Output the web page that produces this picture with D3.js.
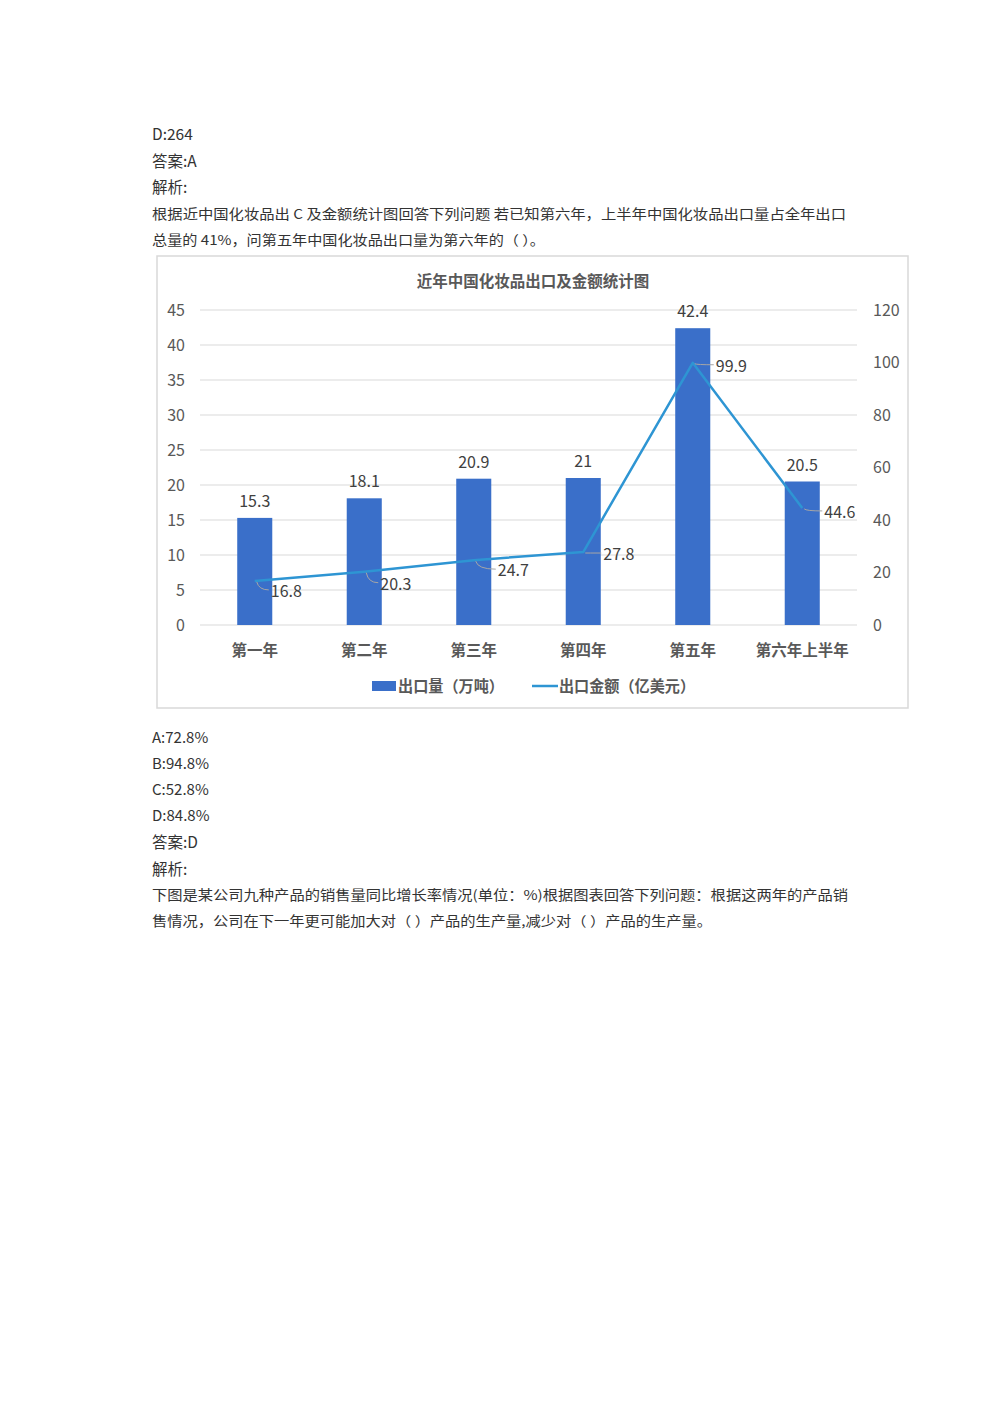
<!DOCTYPE html>
<html>
<head>
<meta charset="utf-8">
<script src="https://cdn.jsdelivr.net/npm/d3@7/dist/d3.min.js"></script>
<style>
  html, body { margin: 0; padding: 0; background: #fff; }
  svg { display: block; }
  text { font-family: "Noto Sans CJK SC", "Noto Sans", sans-serif; }
</style>
</head>
<body>
<svg id="page" width="1000" height="1414"></svg>
<script>
// ---------- data ----------
const categories = ["第一年", "第二年", "第三年", "第四年", "第五年", "第六年上半年"];
const exportVolume = [15.3, 18.1, 20.9, 21, 42.4, 20.5];      // 出口量（万吨）
const exportValue = [16.8, 20.3, 24.7, 27.8, 99.9, 44.6];      // 出口金额（亿美元）
const leftTicks = [0, 5, 10, 15, 20, 25, 30, 35, 40, 45];
const rightTicks = [0, 20, 40, 60, 80, 100, 120];
const chartTitle = "近年中国化妆品出口及金额统计图";
const legendLabels = ["出口量（万吨）", "出口金额（亿美元）"];

const textAbove = [
  { t: "D:264", size: 15.5 },
  { t: "答案:A", size: 15.5 },
  { t: "解析:", size: 15.5 },
  { t: "根据近中国化妆品出 C 及金额统计图回答下列问题  若已知第六年，上半年中国化妆品出口量占全年出口", size: 13.5, len: 694 },
  { t: "总量的 41%，问第五年中国化妆品出口量为第六年的（ ）。", size: 13.5, len: 393 }
];
const textBelow = [
  { t: "A:72.8%", size: 15 },
  { t: "B:94.8%", size: 15 },
  { t: "C:52.8%", size: 15 },
  { t: "D:84.8%", size: 15 },
  { t: "答案:D", size: 15.5 },
  { t: "解析:", size: 15.5 },
  { t: "下图是某公司九种产品的销售量同比增长率情况(单位：%)根据图表回答下列问题：根据这两年的产品销", size: 13.5, len: 696 },
  { t: "售情况，公司在下一年更可能加大对（ ）产品的生产量,减少对（ ）产品的生产量。", size: 13.5, len: 560 }
];
// label nudges for line value labels (style)
const lineLabelNudge = [[16, 9], [16, 11], [24, 9], [20, 1], [23, 2], [22, 3]];

// ---------- page text ----------
const svg = d3.select("#page");

function textBlock(lines, y0, step) {
  lines.forEach((d, i) => {
    const t = svg.append("text")
      .attr("x", 152)
      .attr("y", y0 + i * step)
      .attr("dominant-baseline", "central")
      .attr("font-size", d.size)
      .attr("fill", "#333")
      .text(d.t);
    if (d.len) t.attr("textLength", d.len).attr("lengthAdjust", "spacingAndGlyphs");
  });
}
textBlock(textAbove, 133, 26.5);
textBlock(textBelow, 736, 26.3);

// ---------- chart ----------
const box = { x: 157, y: 256, w: 751, h: 452 };
svg.append("rect")
  .attr("x", box.x).attr("y", box.y).attr("width", box.w).attr("height", box.h)
  .attr("fill", "#fff").attr("stroke", "#d9d9d9").attr("stroke-width", 1.5);

const plot = { left: 200, right: 857, top: 310, bottom: 625 };

const x = d3.scaleBand().domain(categories).range([plot.left, plot.right]).paddingInner(0.68).paddingOuter(0.34);
const yL = d3.scaleLinear().domain([0, 45]).range([plot.bottom, plot.top]);
const yR = d3.scaleLinear().domain([0, 120]).range([plot.bottom, plot.top]);

// title
svg.append("text")
  .attr("x", 533).attr("y", 280)
  .attr("text-anchor", "middle").attr("dominant-baseline", "central")
  .attr("font-size", 15.5).attr("font-weight", "bold").attr("fill", "#595959")
  .text(chartTitle);

// gridlines
svg.append("g").selectAll("line").data(leftTicks).join("line")
  .attr("x1", plot.left).attr("x2", plot.right)
  .attr("y1", d => yL(d)).attr("y2", d => yL(d))
  .attr("stroke", "#d9d9d9").attr("stroke-width", 1);

// left axis
const axL = svg.append("g").attr("transform", `translate(${plot.left},0)`)
  .call(d3.axisLeft(yL).tickValues(leftTicks).tickSize(0).tickPadding(15));
axL.select(".domain").remove();
axL.selectAll("text").attr("font-size", 16).attr("fill", "#595959")
  .attr("font-family", "'Noto Sans CJK SC', sans-serif");

// right axis
const axR = svg.append("g").attr("transform", `translate(${plot.right},0)`)
  .call(d3.axisRight(yR).tickValues(rightTicks).tickSize(0).tickPadding(16));
axR.select(".domain").remove();
axR.selectAll("text").attr("font-size", 16).attr("fill", "#595959")
  .attr("font-family", "'Noto Sans CJK SC', sans-serif");

// x axis labels
const axX = svg.append("g").attr("transform", `translate(0,${plot.bottom})`)
  .call(d3.axisBottom(x).tickSize(0).tickPadding(20));
axX.select(".domain").remove();
axX.selectAll("text").attr("font-size", 15.5).attr("font-weight", "bold").attr("fill", "#595959")
  .attr("font-family", "'Noto Sans CJK SC', sans-serif");

// bars
const barColor = "#3a6fc9";
svg.append("g").selectAll("rect").data(exportVolume).join("rect")
  .attr("x", (d, i) => x(categories[i]))
  .attr("width", x.bandwidth())
  .attr("y", d => yL(d))
  .attr("height", d => yL(0) - yL(d))
  .attr("fill", barColor);

// bar labels
svg.append("g").selectAll("text").data(exportVolume).join("text")
  .attr("x", (d, i) => x(categories[i]) + x.bandwidth() / 2)
  .attr("y", d => yL(d) - 18)
  .attr("text-anchor", "middle").attr("dominant-baseline", "central")
  .attr("font-size", 16).attr("fill", "#404040")
  .text(d => d);

// line
const lineColor = "#2e95d3";
const cx = i => x(categories[i]) + x.bandwidth() / 2;
const line = d3.line().x((d, i) => cx(i)).y(d => yR(d));
svg.append("path").datum(exportValue)
  .attr("d", line).attr("fill", "none")
  .attr("stroke", lineColor).attr("stroke-width", 2.5).attr("stroke-linejoin", "round");

// leader lines
svg.append("g").selectAll("path").data(exportValue).join("path")
  .attr("d", (d, i) => {
    const px = cx(i), py = yR(d);
    const [dx, dy] = lineLabelNudge[i];
    return `M${px + 2},${py + 1} Q${px + 4},${py + dy} ${px + dx - 2},${py + dy}`;
  })
  .attr("fill", "none").attr("stroke", "#a6a6a6").attr("stroke-width", 1);

// line labels
svg.append("g").selectAll("text").data(exportValue).join("text")
  .attr("x", (d, i) => cx(i) + lineLabelNudge[i][0])
  .attr("y", (d, i) => yR(d) + lineLabelNudge[i][1])
  .attr("dominant-baseline", "central")
  .attr("font-size", 16).attr("fill", "#404040")
  .text(d => d);

// legend
const lg = svg.append("g");
lg.append("rect").attr("x", 372).attr("y", 681).attr("width", 24).attr("height", 10).attr("fill", barColor);
lg.append("text").attr("x", 398).attr("y", 685).attr("dominant-baseline", "central")
  .attr("font-size", 15.5).attr("font-weight", "bold").attr("fill", "#595959")
  .attr("textLength", 106).attr("lengthAdjust", "spacingAndGlyphs").text(legendLabels[0]);
lg.append("line").attr("x1", 532).attr("x2", 558).attr("y1", 686).attr("y2", 686)
  .attr("stroke", lineColor).attr("stroke-width", 2.5);
lg.append("text").attr("x", 559).attr("y", 685).attr("dominant-baseline", "central")
  .attr("font-size", 15.5).attr("font-weight", "bold").attr("fill", "#595959")
  .attr("textLength", 136).attr("lengthAdjust", "spacingAndGlyphs").text(legendLabels[1]);
</script>
</body>
</html>
